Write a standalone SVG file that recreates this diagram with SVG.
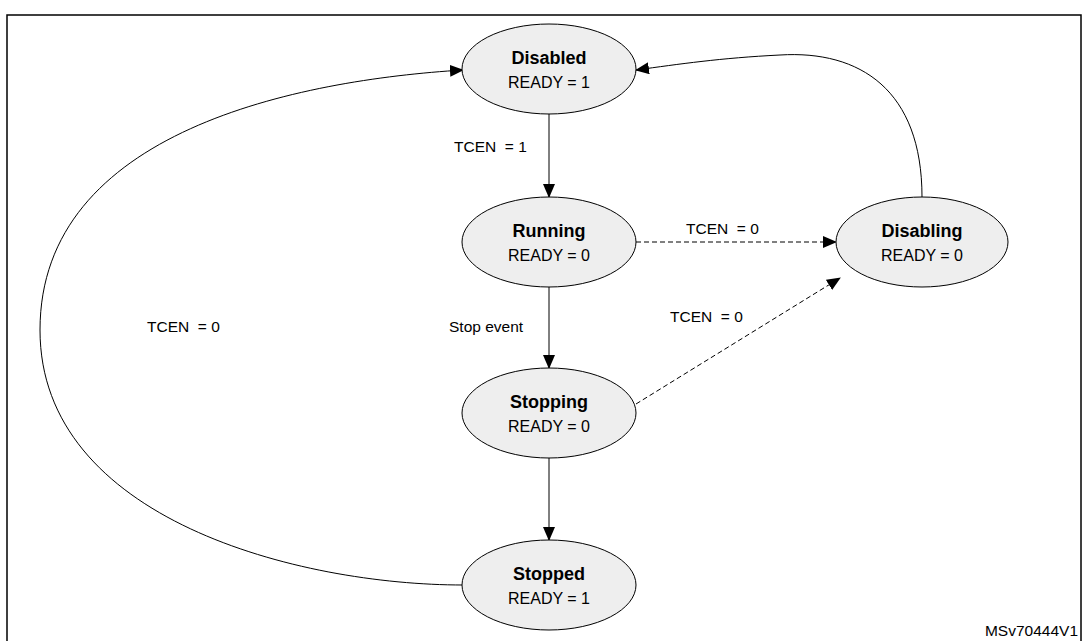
<svg xmlns="http://www.w3.org/2000/svg" width="1087" height="641" viewBox="0 0 1087 641">
<style>
.n{fill:#eeeeee;stroke:#000;stroke-width:1}
.t{font-family:"Liberation Sans",Arial,sans-serif;font-size:16px;text-anchor:middle}
.b{font-weight:bold;font-size:18px}
.l{font-family:"Liberation Sans",Arial,sans-serif;font-size:15.5px}
.c{fill:none;stroke:#000;stroke-width:1}
.d{stroke-dasharray:5,3}
</style>
<defs><marker id="a" markerWidth="14" markerHeight="12" refX="13" refY="6" orient="auto" markerUnits="userSpaceOnUse"><path d="M0,0L14,6L0,12z"/></marker></defs>
<rect x="7" y="15" width="1074" height="630" fill="#fff" stroke="#000" stroke-width="1.5"/>
<g id="connectors">
<path class="c" d="M549,114V197" marker-end="url(#a)"/>
<path class="c" d="M549,287V368" marker-end="url(#a)"/>
<path class="c" d="M549,458V540" marker-end="url(#a)"/>
<path class="c d" d="M636,242H836" marker-end="url(#a)"/>
<path class="c d" d="M636,404L840,278" marker-end="url(#a)"/>
<path class="c" d="M463,585C300,585 40,520 40,330C40,130 300,80 463,70" marker-end="url(#a)"/>
<path class="c" d="M922,197C922,90 860,50 780,55C720,58 680,64 636,70" marker-end="url(#a)"/>
<text class="l" x="454" y="152">TCEN&#160; = 1</text>
<text class="l" x="686" y="234">TCEN&#160; = 0</text>
<text class="l" x="449" y="332">Stop event</text>
<text class="l" x="670" y="322">TCEN&#160; = 0</text>
<text class="l" x="147" y="332">TCEN&#160; = 0</text>
</g>
<g id="disabled"><ellipse class="n" cx="549" cy="69" rx="87" ry="45"/><text class="t b" x="549" y="64">Disabled</text><text class="t" x="549" y="88">READY = 1</text></g>
<g id="running"><ellipse class="n" cx="549" cy="242" rx="87" ry="45"/><text class="t b" x="549" y="237">Running</text><text class="t" x="549" y="261">READY = 0</text></g>
<g id="stopping"><ellipse class="n" cx="549" cy="413" rx="87" ry="45"/><text class="t b" x="549" y="408">Stopping</text><text class="t" x="549" y="432">READY = 0</text></g>
<g id="stopped"><ellipse class="n" cx="549" cy="585" rx="87" ry="45"/><text class="t b" x="549" y="580">Stopped</text><text class="t" x="549" y="604">READY = 1</text></g>
<g id="disabling"><ellipse class="n" cx="922" cy="242" rx="86" ry="45"/><text class="t b" x="922" y="237">Disabling</text><text class="t" x="922" y="261">READY = 0</text></g>
<text class="l" x="1078" y="636" text-anchor="end" font-size="13">MSv70444V1</text>
</svg>
